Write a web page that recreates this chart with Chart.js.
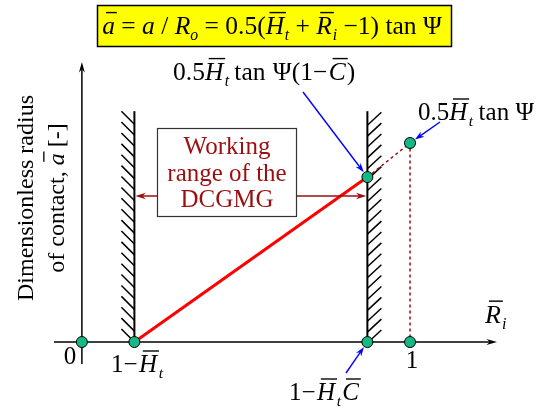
<!DOCTYPE html>
<html lang="en">
<head>
<meta charset="UTF-8" />
<title>Dimensionless radius of contact</title>
<script src="https://cdn.jsdelivr.net/npm/chart.js"></script>
<style>
  html, body { margin: 0; padding: 0; background: #fff; }
  #wrap { width: 547px; height: 408px; }
</style>
</head>
<body>
<div id="wrap"><canvas id="contactChart" width="547" height="408"></canvas></div>
<script>
  // working branch of a(R_i) between 1-Ht and 1-Ht*C
  const workX = [0.16, 0.87];
  const workA = [0, 0.503];
  // continuation up to R_i = 1 and the drop back to the axis
  const extX = [0.87, 1, 1];
  const extA = [0.503, 0.607, 0];
  // marked points: 0, 1-Ht, 1-Ht*C, 1 on the axis, plus the two upper ones
  const dotX = [0, 0.16, 0.87, 1, 0.87, 1];
  const dotA = [0, 0, 0, 0, 0.503, 0.607];
  // walls bounding the DCGMG range
  const wallX = [0.16, 0.87];
  const wallTopA = 0.704;
  // extent of the drawn axes
  const xRange = [-0.085, 1.265];
  const aRange = [-0.067, 0.854];

  const FONT = '"Liberation Serif", "DejaVu Serif", serif';
  const DARKRED = '#9a0f0f';
  const BLUE = '#0000ff';

  const pts = (xs, ys) => xs.map((x, i) => ({ x: x, y: ys[i] }));

  // text with italics, overbars and subscripts
  // parts = [[text, flags, extra space after in em]]; flags: i italic, b bar, s subscript
  function rich(ctx, parts, x, y, size, align, color) {
    const font = (sz, it) => (it ? 'italic ' : '') + sz + 'px ' + FONT;
    const runs = parts.map(([t, f = '', pad = 0]) => {
      const sub = f.includes('s'), it = f.includes('i');
      const sz = sub ? size * 0.62 : size;
      ctx.font = font(sz, it);
      return { t, sub, it, bar: f.includes('b'), sz, w: ctx.measureText(t).width, pad: pad * size };
    });
    const total = runs.reduce((s, r) => s + r.w + r.pad, 0);
    let cx = align === 'center' ? x - total / 2 : align === 'right' ? x - total : x;
    ctx.fillStyle = color;
    ctx.strokeStyle = color;
    ctx.textAlign = 'left';
    ctx.textBaseline = 'alphabetic';
    runs.forEach(r => {
      ctx.font = font(r.sz, r.it);
      ctx.fillText(r.t, cx, y + (r.sub ? size * 0.24 : 0));
      if (r.bar) {
        const by = y - size * 0.84;
        const sk = r.it ? size * 0.15 : 0;
        ctx.lineWidth = Math.max(1, size * 0.055);
        ctx.beginPath();
        ctx.moveTo(cx + sk, by);
        ctx.lineTo(cx + r.w + sk * 0.5, by);
        ctx.stroke();
      }
      cx += r.w + r.pad;
    });
    return total;
  }

  function arrow(ctx, x1, y1, x2, y2, color, lw, head, spread) {
    const ang = Math.atan2(y2 - y1, x2 - x1);
    const c = Math.cos(ang), s = Math.sin(ang);
    const sp = spread || 0.32;
    ctx.strokeStyle = color;
    ctx.fillStyle = color;
    ctx.lineWidth = lw;
    ctx.setLineDash([]);
    ctx.beginPath();
    ctx.moveTo(x1, y1);
    ctx.lineTo(x2 - c * head * 0.6, y2 - s * head * 0.6);
    ctx.stroke();
    ctx.beginPath();
    ctx.moveTo(x2, y2);
    ctx.lineTo(x2 - head * Math.cos(ang - sp), y2 - head * Math.sin(ang - sp));
    ctx.lineTo(x2 - head * 0.65 * c, y2 - head * 0.65 * s);
    ctx.lineTo(x2 - head * Math.cos(ang + sp), y2 - head * Math.sin(ang + sp));
    ctx.closePath();
    ctx.fill();
  }

  // arrow that stops at the rim of a point marker
  function pointTo(ctx, x1, y1, px, py, r) {
    const d = Math.hypot(px - x1, py - y1);
    arrow(ctx, x1, y1, px - (px - x1) / d * r, py - (py - y1) / d * r, BLUE, 1.4, 10, 0.32);
  }

  const schemePlugin = {
    id: 'scheme',
    beforeDatasetsDraw(chart) {
      const ctx = chart.ctx;
      const px = v => chart.scales.x.getPixelForValue(v);
      const py = v => chart.scales.y.getPixelForValue(v);
      ctx.save();

      // axes with arrow heads
      arrow(ctx, px(xRange[0]), py(0), px(xRange[1]), py(0), '#000', 1.5, 11, 0.27);
      arrow(ctx, px(0), py(aRange[0]), px(0), py(aRange[1]), '#000', 1.5, 11, 0.27);

      // hatched walls
      const top = py(wallTopA), bottom = py(0);
      wallX.forEach((wx, k) => {
        const x = px(wx);
        ctx.strokeStyle = '#000';
        ctx.lineWidth = 2;
        ctx.beginPath();
        ctx.moveTo(x, top);
        ctx.lineTo(x, bottom);
        ctx.stroke();
        ctx.lineWidth = 1.5;
        const n = 20, len = 13;
        const step = (bottom - top - len) / n;
        for (let i = 0; i <= n; i++) {
          const y = top + i * step;
          ctx.beginPath();
          if (k === 0) {
            ctx.moveTo(x - len, y);
            ctx.lineTo(x, y + len);
          } else {
            ctx.moveTo(x, y + len + 1);
            ctx.lineTo(x + len + 1, y + 1);
          }
          ctx.stroke();
        }
      });
      ctx.restore();
    },
    afterDatasetsDraw(chart) {
      const ctx = chart.ctx;
      const px = v => chart.scales.x.getPixelForValue(v);
      const py = v => chart.scales.y.getPixelForValue(v);
      ctx.save();

      // formula banner
      ctx.fillStyle = '#ffff00';
      ctx.fillRect(97, 5, 355, 42);
      ctx.strokeStyle = '#000';
      ctx.lineWidth = 1.5;
      ctx.strokeRect(97.5, 5.5, 354, 41);
      rich(ctx, [['a', 'ib'], [' = '], ['a', 'i'], [' / '], ['R', 'i'], ['o', 'is'], [' = 0.5('],
        ['H', 'ib', 0.03], ['t', 'is'], [' + '], ['R', 'ib', 0.03], ['i', 'is'], [' \u22121) tan \u03A8']],
        272, 34, 25.5, 'center', '#000');

      // axis title
      ctx.save();
      ctx.translate(33, 198);
      ctx.rotate(-Math.PI / 2);
      rich(ctx, [['Dimensionless radius']], 0, 0, 24, 'center', '#000');
      rich(ctx, [['of contact, '], ['a', 'ib'], [' [-]']], 0, 31, 24, 'center', '#000');
      ctx.restore();

      rich(ctx, [['R', 'ib', 0.04], ['i', 'is']], 485, 323, 26, 'left', '#000');

      // tick labels under the axis
      rich(ctx, [['0']], 70, 364, 25, 'center', '#000');
      rich(ctx, [['1\u2212', '', 0.06], ['H', 'ib', 0.06], ['t', 'is']], 111, 372, 25, 'left', '#000');
      rich(ctx, [['1']], px(dotX[3]) + 2, 368, 25, 'center', '#000');
      rich(ctx, [['1\u2212', '', 0.06], ['H', 'ib', 0.06], ['t', 'is', 0.05], ['C', 'ib']], 289, 400, 25, 'left', '#000');

      // labels of the upper points
      rich(ctx, [['0.5'], ['H', 'ib', 0.06], ['t', 'is', 0.2], ['tan ', '', 0.04], ['\u03A8(1\u2212', '', 0.06], ['C', 'ib', 0.04], [')']],
        173, 80, 25.5, 'left', '#000');
      rich(ctx, [['0.5'], ['H', 'ib', 0.06], ['t', 'is', 0.22], ['tan '], ['\u03A8']], 418, 120, 25, 'left', '#000');

      const r = 6;
      pointTo(ctx, 303, 92, px(dotX[4]), py(dotA[4]), r);
      pointTo(ctx, 440, 122, px(dotX[5]), py(dotA[5]), r);
      pointTo(ctx, 346, 373, px(dotX[2]), py(dotA[2]), r);

      // working range box with arrows to both walls
      const by = 196;
      arrow(ctx, 157, by, px(wallX[0]) + 1, by, DARKRED, 1.5, 11, 0.3);
      arrow(ctx, 297, by, px(wallX[1]) - 1, by, DARKRED, 1.5, 11, 0.3);
      ctx.fillStyle = '#fff';
      ctx.fillRect(157, 128, 140, 89);
      ctx.strokeStyle = '#333';
      ctx.lineWidth = 1.2;
      ctx.strokeRect(157.5, 128.5, 139, 88);
      rich(ctx, [['Working']], 227, 154, 25, 'center', DARKRED);
      rich(ctx, [['range of the']], 227, 181, 25, 'center', DARKRED);
      rich(ctx, [['DCGMG']], 227, 207, 25, 'center', DARKRED);

      ctx.restore();
    }
  };

  new Chart(document.getElementById('contactChart').getContext('2d'), {
    type: 'scatter',
    data: {
      datasets: [
        {
          data: pts(dotX, dotA),
          showLine: false,
          pointRadius: 5.5,
          pointBackgroundColor: '#17b887',
          pointBorderColor: '#000',
          pointBorderWidth: 1,
          order: 0
        },
        {
          data: pts(workX, workA),
          showLine: true,
          borderColor: '#ff0000',
          borderWidth: 3,
          pointRadius: 0,
          order: 1
        },
        {
          data: pts(extX, extA),
          showLine: true,
          borderColor: DARKRED,
          borderWidth: 1.5,
          borderDash: [3, 3],
          pointRadius: 0,
          order: 2
        }
      ]
    },
    options: {
      responsive: false,
      animation: false,
      events: [],
      layout: { padding: { left: 54, right: 50, top: 62, bottom: 44 } },
      plugins: { legend: { display: false }, tooltip: { enabled: false } },
      scales: {
        x: { type: 'linear', display: false, min: xRange[0], max: xRange[1] },
        y: { type: 'linear', display: false, min: aRange[0], max: aRange[1] }
      }
    },
    plugins: [schemePlugin]
  });
</script>
</body>
</html>
